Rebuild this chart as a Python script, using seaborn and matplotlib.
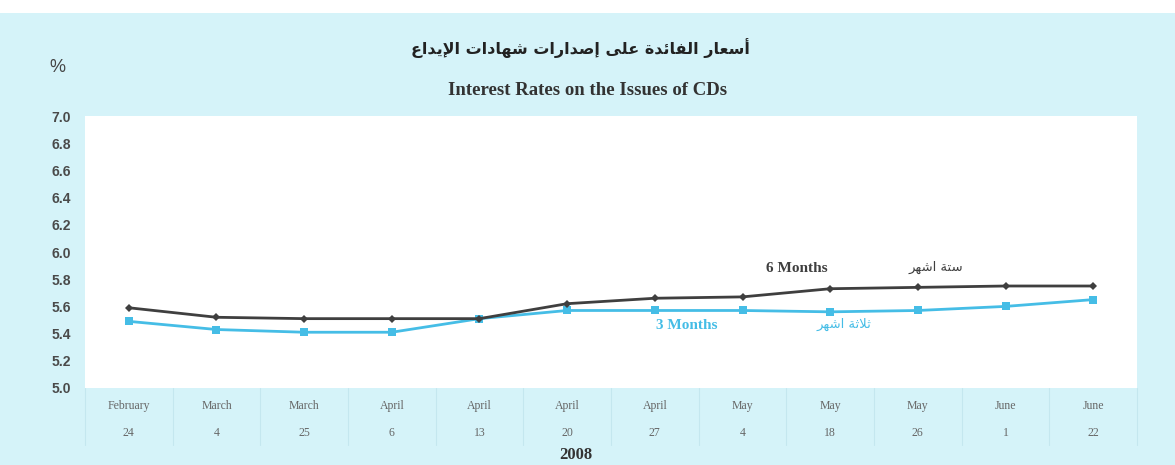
import numpy as np
import pandas as pd
import matplotlib
matplotlib.use("Agg")
import matplotlib.pyplot as plt
import seaborn as sns
from matplotlib.patches import Rectangle

sns.set_style("white")
plt.rcParams['font.family'] = ['DejaVu Sans']

# Data
months = ['February', 'March', 'March', 'April', 'April', 'April', 'April',
          'May', 'May', 'May', 'June', 'June']
days = ['24', '4', '25', '6', '13', '20', '27', '4', '18', '26', '1', '22']
six_months = [5.59, 5.52, 5.51, 5.51, 5.51, 5.62, 5.66, 5.67, 5.73, 5.74, 5.75, 5.75]
three_months = [5.49, 5.43, 5.41, 5.41, 5.51, 5.57, 5.57, 5.57, 5.56, 5.57, 5.60, 5.65]
y_ticks = [5.0, 5.2, 5.4, 5.6, 5.8, 6.0, 6.2, 6.4, 6.6, 6.8, 7.0]

title_ar = 'أسعار الفائدة على إصدارات شهادات الإيداع'
title_en = 'Interest Rates on the Issues of CDs'
six_ar = 'ستة اشهر'
three_ar = 'ثلاثة اشهر'
year_label = '2008'

# Minimal Arabic shaping (matplotlib does no shaping / bidi)
# forms: (isolated, final, initial, medial)
AR_FORMS = {
    'ا': ('\uFE8D', '\uFE8E'), 'أ': ('\uFE83', '\uFE84'), 'إ': ('\uFE87', '\uFE88'),
    'د': ('\uFEA9', '\uFEAA'), 'ر': ('\uFEAD', '\uFEAE'), 'ة': ('\uFE93', '\uFE94'),
    'ى': ('\uFEEF', '\uFEF0'),
    'ت': ('\uFE95', '\uFE96', '\uFE97', '\uFE98'), 'ث': ('\uFE99', '\uFE9A', '\uFE9B', '\uFE9C'),
    'س': ('\uFEB1', '\uFEB2', '\uFEB3', '\uFEB4'), 'ش': ('\uFEB5', '\uFEB6', '\uFEB7', '\uFEB8'),
    'ص': ('\uFEB9', '\uFEBA', '\uFEBB', '\uFEBC'), 'ع': ('\uFEC9', '\uFECA', '\uFECB', '\uFECC'),
    'ف': ('\uFED1', '\uFED2', '\uFED3', '\uFED4'), 'ل': ('\uFEDD', '\uFEDE', '\uFEDF', '\uFEE0'),
    'ه': ('\uFEE9', '\uFEEA', '\uFEEB', '\uFEEC'), 'ي': ('\uFEF1', '\uFEF2', '\uFEF3', '\uFEF4'),
    'ئ': ('\uFE89', '\uFE8A', '\uFE8B', '\uFE8C'),
    'لا': ('\uFEFB', '\uFEFC'), 'لأ': ('\uFEF7', '\uFEF8'), 'لإ': ('\uFEF9', '\uFEFA'),
}


def shape_ar(text):
    tokens = []
    i = 0
    while i < len(text):
        if text[i] == 'ل' and i + 1 < len(text) and text[i + 1] in 'اأإ':
            tokens.append(text[i:i + 2])
            i += 2
        else:
            tokens.append(text[i])
            i += 1
    out = []
    for k, t in enumerate(tokens):
        if t not in AR_FORMS:
            out.append(t)
            continue
        f = AR_FORMS[t]
        prev_j = k > 0 and tokens[k - 1] in AR_FORMS and len(AR_FORMS[tokens[k - 1]]) == 4
        next_j = len(f) == 4 and k + 1 < len(tokens) and tokens[k + 1] in AR_FORMS
        if prev_j and next_j:
            out.append(f[3])
        elif prev_j:
            out.append(f[1])
        elif next_j:
            out.append(f[2])
        else:
            out.append(f[0])
    return ''.join(reversed(out))


bg = '#d5f3f9'
dark = '#3f3f3f'
blue = '#45bde6'

df = pd.DataFrame({'pos': np.arange(len(days)), 'six': six_months, 'three': three_months})

fig = plt.figure(figsize=(11.75, 4.65), dpi=100, facecolor=bg)
fig.patches.append(Rectangle((0, 0.972), 1, 0.03, transform=fig.transFigure,
                             facecolor='white', edgecolor='none', zorder=0))
ax = fig.add_axes([0.0723, 0.1656, 0.8954, 0.5849])
ax.set_facecolor('white')

sns.lineplot(data=df, x='pos', y='three', ax=ax, color=blue, lw=2,
             marker='s', markersize=6, markeredgewidth=0)
sns.lineplot(data=df, x='pos', y='six', ax=ax, color=dark, lw=2,
             marker='D', markersize=4, markeredgewidth=0)

ax.set_xlim(-0.5, len(days) - 0.5)
ax.set_ylim(5.0, 7.0)
ax.set_yticks(y_ticks)
ax.set_yticklabels([f'{v:.1f}' for v in y_ticks], fontsize=10, fontweight='bold',
                   color='#4a4a4a', family='Liberation Sans')
ax.set_xticks(df['pos'])
ax.set_xticklabels([f'{m}\n{d}' for m, d in zip(months, days)], fontsize=8.5,
                   family='Liberation Serif', color='#666666', linespacing=2.6)
ax.tick_params(axis='both', length=0)
ax.tick_params(axis='y', pad=10)
ax.tick_params(axis='x', pad=9)
ax.set_xlabel('')
ax.set_ylabel('')
for s in ax.spines.values():
    s.set_visible(False)

# faint separators between dates below the plot
for b in np.arange(len(days) + 1) - 0.5:
    ax.plot([b, b], [0, -0.21], transform=ax.get_xaxis_transform(), color='#c4e7ef',
            lw=0.8, clip_on=False)

# series labels
ax.text(7.62, 5.88, '6 Months', fontsize=11, fontweight='bold', family='Liberation Serif',
        color=dark, ha='center', va='center')
ax.text(9.21, 5.885, shape_ar(six_ar), fontsize=9.5, color=dark, ha='center', va='center')
ax.text(6.36, 5.46, '3 Months', fontsize=11, fontweight='bold', family='Liberation Serif',
        color=blue, ha='center', va='center')
ax.text(8.16, 5.47, shape_ar(three_ar), fontsize=9.5, color=blue, ha='center', va='center')

# titles
fig.text(0.494, 0.897, shape_ar(title_ar), fontsize=11.5, fontweight='bold', color='#222222',
         ha='center', va='center')
fig.text(0.5, 0.806, title_en, fontsize=13.5, fontweight='bold', family='Liberation Serif',
         color='#333333', ha='center', va='center')
fig.text(0.049, 0.855, '%', fontsize=13, color='#444444', family='Liberation Sans',
         ha='center', va='center')
fig.text(0.49, 0.004, year_label, fontsize=12, fontweight='bold', family='Liberation Serif',
         color='#333333', ha='center', va='bottom')

fig.savefig('out.png', dpi=100, facecolor=bg)
